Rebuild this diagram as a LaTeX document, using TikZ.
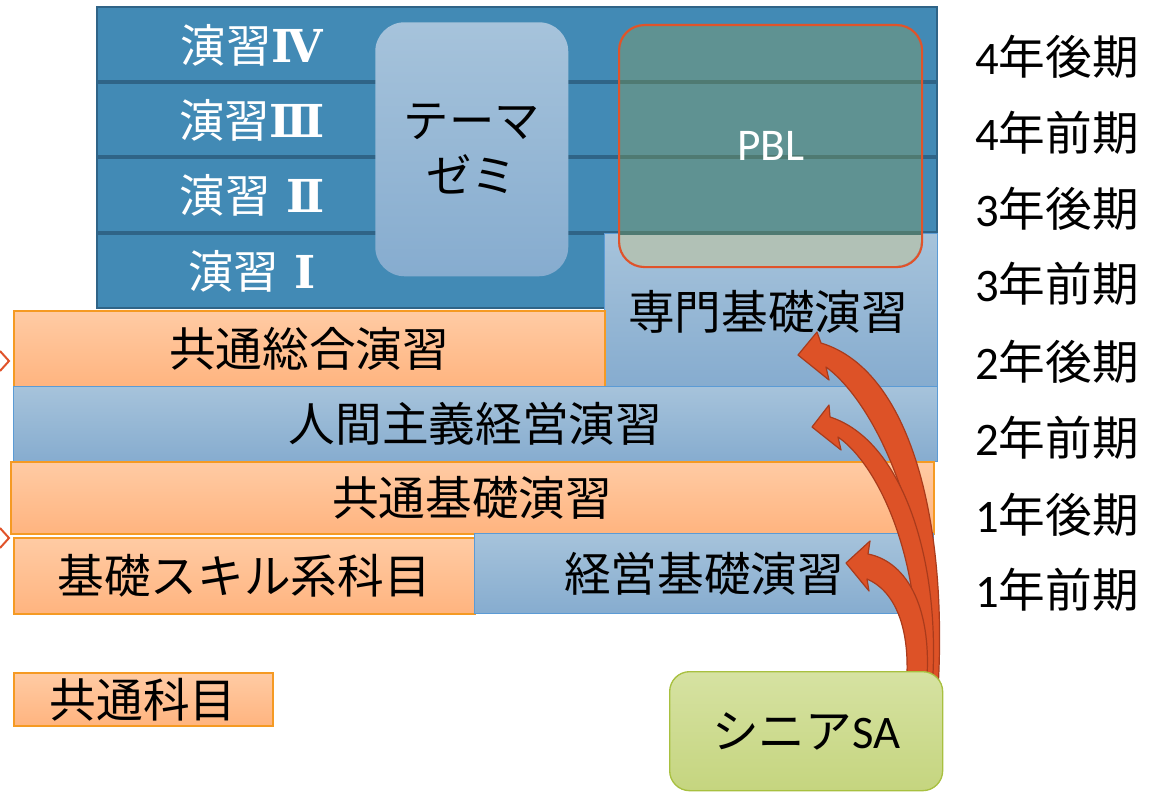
\documentclass[tikz,border=0pt]{standalone}
\usepackage{fontspec}
\setmainfont{Noto Sans CJK JP}
\newfontfamily\lat{Carlito}
\newfontfamily\romanum{DejaVu Serif}
\definecolor{dkblue}{HTML}{428AB5}
\definecolor{dkline}{HTML}{2F6487}
\definecolor{lbtop}{HTML}{A6C3DB}
\definecolor{lbbot}{HTML}{86ACCF}
\definecolor{lbline}{HTML}{5B9BD5}
\definecolor{oratop}{HTML}{FFCBA4}
\definecolor{orabot}{HTML}{FFB47F}
\definecolor{oraline}{HTML}{F59A23}
\definecolor{pblfill}{HTML}{5F9292}
\definecolor{pbllow}{HTML}{B1C1B6}
\definecolor{pblline}{HTML}{4F7A72}
\definecolor{pbledge}{HTML}{E0532A}
\definecolor{grtop}{HTML}{D6E2A2}
\definecolor{grbot}{HTML}{C5D57F}
\definecolor{grline}{HTML}{A8C040}
\definecolor{arrfill}{HTML}{DD5227}
\definecolor{arrline}{HTML}{A93B1C}
\begin{document}
\begin{tikzpicture}[x=0.75pt,y=-0.75pt,
  sz/.style 2 args={minimum width=#1*0.75pt, minimum height=#2*0.75pt},
  txt/.style={font=\fontsize{35}{42}\selectfont, text=black},
  wtxt/.style={font=\fontsize{34}{40}\selectfont, text=white},
  boxbase/.style={rectangle, anchor=north west, inner sep=0pt, txt},
  orabox/.style={boxbase, draw=oraline, line width=1.2pt, top color=oratop, bottom color=orabot},
  lbbox/.style={boxbase, draw=lbline, line width=0.9pt, top color=lbtop, bottom color=lbbot},
  arrowshape/.style={fill=arrfill, draw=arrline, line width=0.9pt, line join=round},
  yearlbl/.style={anchor=west, txt, inner sep=0pt},
  chev/.style={draw=pbledge, line width=1.5pt}
]
\useasboundingbox (0,0) rectangle (1157,792);

% big blue block
\fill[dkblue] (97,7) rectangle (937,308);
\foreach \yy in {82,157,233}
  \draw[dkline, line width=3pt] (97,\yy) -- (937,\yy);
\draw[dkline, line width=2pt] (97,7) rectangle (937,308);

\node[wtxt] (e4) at (252,45) {演習{\romanum\bfseries Ⅳ}};
\node[wtxt] (e3) at (252,120) {演習{\romanum\bfseries Ⅲ}};
\node[wtxt] (e2) at (252,195) {演習{\romanum\bfseries\ Ⅱ}};
\node[wtxt] (e1) at (252,271) {演習{\romanum\bfseries\ Ⅰ}};

% theme seminar
\node[rectangle, rounded corners=22pt, sz={193}{254}, top color=lbtop, bottom color=lbbot,
  anchor=north west, align=center, font=\fontsize{34}{41}\selectfont, inner sep=0pt]
  (zemi) at (375,22) {テーマ\\ゼミ};

% lower boxes
\node[lbbox, sz={333}{153}, text depth=0pt] (senmon) at (604,233) {};
\node[txt] (senmonlbl) at (768,312) {専門基礎演習};
\node[orabox, sz={591}{76}] (sogo) at (13,310) {共通総合演習};
\node[lbbox, sz={924}{75}] (ningen) at (13,386) {人間主義経営演習};
\node[orabox, sz={923}{72}] (kiso) at (10,461) {共通基礎演習};
\node[orabox, sz={461}{76}] (skill) at (13,537) {基礎スキル系科目};
\node[lbbox, sz={459}{80}] (keiei) at (474,533) {経営基礎演習};
\node[orabox, sz={259}{53}] (kyotsu) at (13,672) {共通科目};

% PBL
\begin{scope}
  \clip (604,7) rectangle (937,308);
  \fill[pblfill] (618,24) [rounded corners=19pt] rectangle (921,266);
\end{scope}
\begin{scope}
  \clip (604,234) rectangle (937,386);
  \fill[pbllow] (618,24) [rounded corners=19pt] rectangle (921,266);
\end{scope}
\begin{scope}
  \clip (618,24) [rounded corners=19pt] rectangle (921,266);
  \foreach \yy in {82,157,233}
    \draw[pblline, line width=3pt] (618,\yy) -- (921,\yy);
\end{scope}
\node[rectangle, rounded corners=19pt, draw=pbledge, line width=1.6pt, sz={303}{242},
  anchor=north west, inner sep=0pt, font=\fontsize{34}{40}\selectfont\lat, text=white]
  (pbl) at (618,24) {PBL};

% chevrons at left edge
\draw[chev] (0,351) -- (9,361) -- (0,371);
\draw[chev] (0,528) -- (9,538) -- (0,548);

% curved block arrows from senior SA
\draw[arrowshape] (921,690) .. controls (940,540) and (878,405) .. (826,367) -- (829,380) -- (798,355) -- (817,332) -- (821,343) .. controls (910,370) and (948,520) .. (938,690) -- cycle;
\draw[arrowshape] (914,690) .. controls (927,580) and (885,470) .. (838,437) -- (841,450) -- (812,427) -- (829,405) -- (830,417) .. controls (902,440) and (942,560) .. (932,690) -- cycle;
\draw[arrowshape] (906,690) .. controls (912,625) and (893,590) .. (867,579) -- (869,591) -- (846,563) -- (870,541) -- (868,554) .. controls (908,562) and (934,610) .. (926,690) -- cycle;

% senior SA
\node[rectangle, rounded corners=15pt, draw=grline, line width=1pt, top color=grtop, bottom color=grbot,
  sz={273}{119}, anchor=north west, inner sep=0pt, txt] (sa) at (669,671) {シニア{\lat SA}};

% year labels
\node[yearlbl] (y8) at (975,57) {{\lat 4}年後期};
\node[yearlbl] (y7) at (975,133) {{\lat 4}年前期};
\node[yearlbl] (y6) at (975,209) {{\lat 3}年後期};
\node[yearlbl] (y5) at (975,284) {{\lat 3}年前期};
\node[yearlbl] (y4) at (975,362) {{\lat 2}年後期};
\node[yearlbl] (y3) at (975,438) {{\lat 2}年前期};
\node[yearlbl] (y2) at (975,515) {{\lat 1}年後期};
\node[yearlbl] (y1) at (975,590) {{\lat 1}年前期};
\end{tikzpicture}
\end{document}
